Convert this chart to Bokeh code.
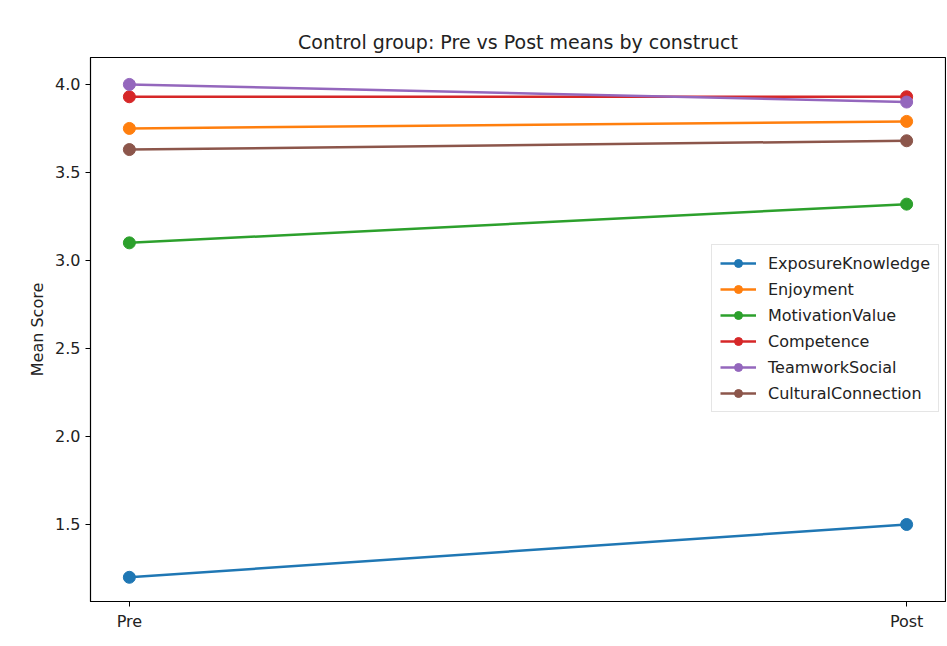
from bokeh.plotting import figure
from bokeh.models import Range1d, FixedTicker, Legend, LegendItem
from bokeh.embed import file_html
from bokeh.resources import INLINE

phases = ["Pre", "Post"]
constructs = ["ExposureKnowledge", "Enjoyment", "MotivationValue",
              "Competence", "TeamworkSocial", "CulturalConnection"]
pre_means = [1.20, 3.75, 3.10, 3.93, 4.00, 3.63]
post_means = [1.50, 3.79, 3.32, 3.93, 3.90, 3.68]
colors = ["#1f77b4", "#ff7f0e", "#2ca02c", "#d62728", "#9467bd", "#8c564b"]

FONT = "DejaVu Sans"

p = figure(width=946, height=640, output_backend="svg", toolbar_location=None,
           x_range=Range1d(-0.05, 1.05), y_range=Range1d(1.0625, 4.153),
           title="Control group: Pre vs Post means by construct",
           min_border_left=90, min_border_right=1, min_border_bottom=39,
           min_border_top=57)

p.title.align = "center"
p.title.text_font = FONT
p.title.text_font_size = "19px"
p.title.text_font_style = "normal"
p.title.text_color = "#222222"

p.xgrid.visible = False
p.ygrid.visible = False
p.outline_line_color = "black"
p.outline_line_width = 1.2

xs = list(range(len(phases)))
items = []
for name, a, b, c in zip(constructs, pre_means, post_means, colors):
    ys = [a, b]
    r1 = p.line(xs, ys, line_color=c, line_width=2.5)
    r2 = p.scatter(xs, ys, marker="circle", size=12, fill_color=c, line_color=c)
    items.append(LegendItem(label=name, renderers=[r1, r2]))

p.xaxis.ticker = FixedTicker(ticks=xs)
p.xaxis.major_label_overrides = {i: s for i, s in enumerate(phases)}
p.yaxis.ticker = FixedTicker(ticks=[1.5, 2.0, 2.5, 3.0, 3.5, 4.0])
p.yaxis.major_label_overrides = {1.5: "1.5", 2.0: "2.0", 2.5: "2.5",
                                 3.0: "3.0", 3.5: "3.5", 4.0: "4.0"}
p.yaxis.axis_label = "Mean Score"

for ax in (p.xaxis[0], p.yaxis[0]):
    ax.minor_tick_line_color = None
    ax.major_tick_in = 0
    ax.major_tick_out = 5
    ax.major_tick_line_color = "black"
    ax.axis_line_color = "black"
    ax.major_label_text_font = FONT
    ax.major_label_text_font_size = "16px"
    ax.major_label_text_color = "#222222"
    ax.axis_label_text_font = FONT
    ax.axis_label_text_font_size = "16px"
    ax.axis_label_text_font_style = "normal"
    ax.axis_label_text_color = "#222222"

legend = Legend(items=items, location=(621, 189))
legend.label_text_font = FONT
legend.label_text_font_size = "16px"
legend.label_text_color = "#222222"
legend.border_line_color = "#cccccc"
legend.border_line_width = 1
legend.background_fill_alpha = 0.9
legend.glyph_width = 36
legend.glyph_height = 20
legend.spacing = 6
legend.padding = 8
legend.margin = 0
legend.label_standoff = 12
p.add_layout(legend, "center")

open("out.html", "w").write(file_html(p, INLINE))
